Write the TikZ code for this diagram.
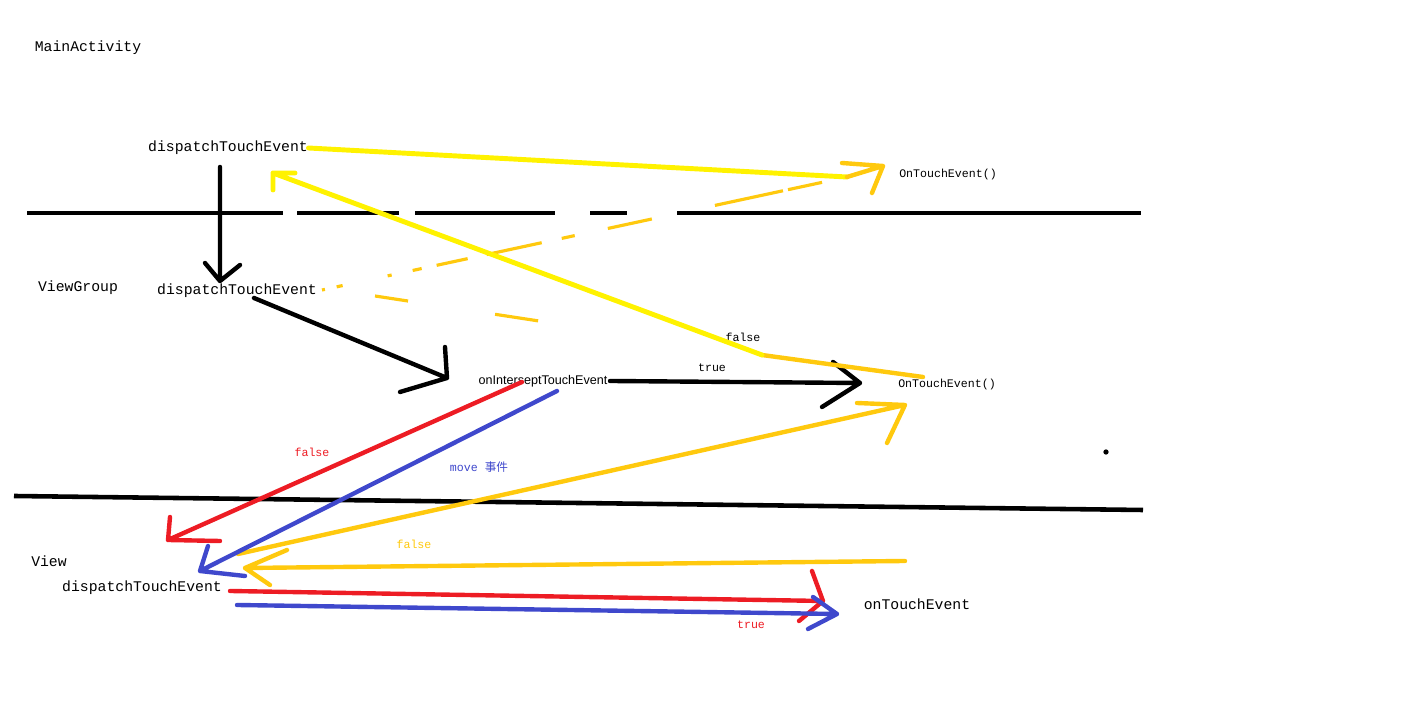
\documentclass[tikz,border=0pt]{standalone}
\usepackage{fontspec}
\setmainfont{Liberation Mono}
\newfontfamily\cjkfont{Noto Sans CJK SC}
\newfontfamily\arialfont{Liberation Sans}
\usepackage{tikz}
\usepackage{xcolor}
\definecolor{pyellow}{HTML}{FFF200}
\definecolor{porange}{HTML}{FFC90E}
\definecolor{pred}{HTML}{ED1C24}
\definecolor{pblue}{HTML}{3F48CC}
\tikzset{%
  big/.style={inner sep=0pt,font=\fontsize{4.2pt}{5pt}\selectfont},%
  small/.style={inner sep=0pt,font=\fontsize{3.3pt}{4pt}\selectfont},%
  pen/.style={line width=1.25pt,line cap=round,line join=round},%
  rest/.style={porange,line width=0.9pt},%
}

\begin{document}
\begin{tikzpicture}[x=0.01cm,y=-0.01cm]%
          \useasboundingbox (0,0) rectangle (1405,704);%
          % layers
          \node [big] (MA) at (88,48) {MainActivity};%
          \node [big] (VG) at (78,288) {ViewGroup};%
          \node [big] (V) at (49,561) {View};%
          \draw [line width=1.3pt,dash pattern=on 2.56cm off .14cm on 1.02cm off .16cm on 1.40cm off .35cm on .37cm off .50cm on 4.64cm off 1cm] (27,213) to (1141,213);%
          \draw [line width=1.3pt] (14,496) to (1143,510);%
          \fill (1106,452) circle (0.75pt);%
          % methods
          \node [big] (D1) at (228,148) {dispatchTouchEvent};%
          \node [small] (O1) at (948,175) {OnTouchEvent()};%
          \node [big] (D2) at (237,291) {dispatchTouchEvent};%
          \node [small,font=\arialfont\fontsize{3.58pt}{4.3pt}\selectfont] (OI) at (543,381) {onInterseptTouchEvent};%
          \node [small] (O2) at (947,385) {OnTouchEvent()};%
          \node [big] (D3) at (142,588) {dispatchTouchEvent};%
          \node [big] (O3) at (917,604) {onTouchEvent};%
          % labels
          \node [small] (fa) at (743,337) {false};%
          \node [small] (tr) at (712,368) {true};%
          \node [small,text=pred] (fb) at (312,452) {false};%
          \node [small,text=pblue] (mv) at (479,467) {move {\cjkfont 事件}};%
          \node [small,text=porange] (fc) at (414,544) {false};%
          \node [small,text=pred] (td) at (751,625) {true};%
          % tips
          \coordinate (a1) at (220,281);%
          \coordinate (a2) at (447,378);%
          \coordinate (a3) at (860,383);%
          \coordinate (a4) at (883,166);%
          \coordinate (a5) at (273,173);%
          \coordinate (a6) at (168,540);%
          \coordinate (a7) at (200,571);%
          \coordinate (a8) at (905,405);%
          \coordinate (a9) at (245,568);%
          \coordinate (a10) at (823,601);%
          \coordinate (a11) at (837,614);%
          \coordinate (bend) at (762,355);%
          \coordinate (yend) at (847,177);%
          % erased strokes
          \draw [rest,dash pattern=on .03cm off .12cm on .061cm off .46cm on .041cm off .215cm on .092cm off .153cm on .317cm off .194cm on .563cm off .205cm on .133cm off .338cm on .45cm off .645cm on .696cm off .051cm on .348cm off 1cm] (322,290) to (yend);%
          \draw [rest,dash pattern=on .334cm off .88cm on .435cm off 3cm] (375,296) to (bend);%
          % black
          \draw [pen] (220,167) to (a1) (a1) +(-15,-18) to (a1) to +(20,-16);%
          \draw [pen] (254,298) to (a2) (a2) +(-47,14) to (a2) to +(-2,-31);%
          \draw [pen] (610,381) to (a3) (a3) +(-27,-21) to (a3) to +(-38,24);%
          % yellow and orange
          \draw [pen,pyellow,line width=1.4pt] (D1.east) to (yend);%
          \draw [pen,porange] (yend) to (a4) (a4) +(-41,-3) to (a4) to +(-11,27);%
          \draw [pen,porange] (923,377) to (bend);%
          \draw [pen,pyellow,line width=1.4pt] (bend) to (a5) (a5) +(0,17) to (a5) to +(22,0);%
          \draw [pen,porange] (238,554) to (a8) (a8) +(-48,-2) to (a8) to +(-18,38);%
          \draw [pen,porange] (905,561) to (a9) (a9) +(42,-18) to (a9) to +(25,17);%
          % red and blue
          \draw [pen,pred] (522,382) to (a6) (a6) +(2,-23) to (a6) to +(52,1);%
          \draw [pen,pblue] (557,391) to (a7) (a7) +(8,-25) to (a7) to +(45,5);%
          \draw [pen,pred] (230,591) to (a10) (a10) +(-11,-30) to (a10) to +(-24,20);%
          \draw [pen,pblue] (237,605) to (a11) (a11) +(-24,-17) to (a11) to +(-29,15);%
        \end{tikzpicture}
\end{document}
